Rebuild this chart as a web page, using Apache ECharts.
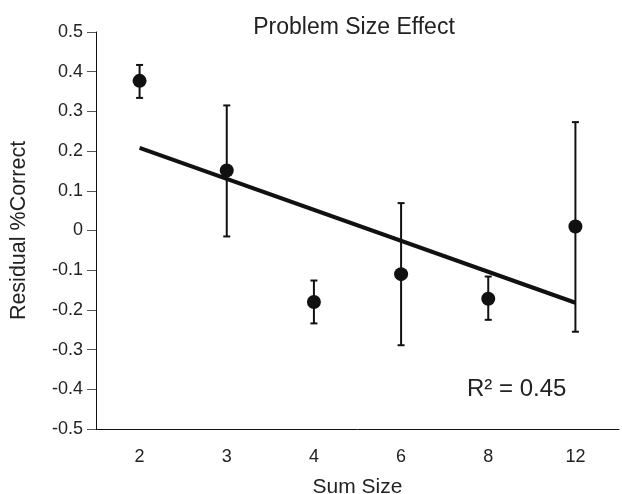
<!DOCTYPE html>
<html>
<head>
<meta charset="utf-8">
<script src="https://cdn.jsdelivr.net/npm/echarts@6/dist/echarts.min.js"></script>
<style>
  html, body { margin: 0; padding: 0; background: #fff; }
  #chart { width: 622px; height: 494px; }
</style>
</head>
<body>
<div id="chart"></div>
<script>
// 数据
const categories = ['2', '3', '4', '6', '8', '12']
const means = [0.377, 0.151, -0.180, -0.110, -0.172, 0.010]
const errHigh = [0.417, 0.315, -0.126, 0.069, -0.116, 0.273]
const errLow = [0.334, -0.015, -0.234, -0.289, -0.225, -0.255]
// 趋势线端点（只有首尾两点）
const trend = [0.208, null, null, null, null, -0.182]
const yTicks = { min: -0.5, max: 0.5, interval: 0.1 }

const chart = echarts.init(document.getElementById('chart'))
const font = 'Liberation Sans, Arial, sans-serif'

const errData = categories.map((c, i) => [i, errLow[i], errHigh[i]])

const option = {
  animation: false,
  title: {
    text: 'Problem Size Effect',
    left: 349,
    top: 11,
    textAlign: 'center',
    textStyle: { fontFamily: font, fontSize: 23, fontWeight: 'normal', color: '#222' }
  },
  graphic: [{
    type: 'text',
    left: 467,
    top: 377,
    style: { text: 'R² = 0.45', font: '24px ' + font, fill: '#222' }
  }],
  grid: { left: 96, right: 3, top: 32, bottom: 65, containLabel: false, outerBoundsMode: 'none' },
  xAxis: {
    type: 'category',
    data: categories,
    boundaryGap: true,
    name: 'Sum Size',
    nameLocation: 'middle',
    nameGap: 48,
    nameTextStyle: { fontFamily: font, fontSize: 21, color: '#222' },
    axisLine: { onZero: false, lineStyle: { color: '#111', width: 1 } },
    axisTick: { length: 9, lineStyle: { color: '#444' } },
    axisLabel: { fontFamily: font, fontSize: 18, color: '#222', margin: 19 },
    splitLine: { show: false }
  },
  yAxis: {
    type: 'value',
    min: yTicks.min,
    max: yTicks.max,
    interval: yTicks.interval,
    name: 'Residual %Correct',
    nameLocation: 'middle',
    nameGap: 66,
    nameTextStyle: { fontFamily: font, fontSize: 21.5, color: '#222' },
    axisLine: { show: true, lineStyle: { color: '#111', width: 1 } },
    axisTick: { show: true, length: 9, lineStyle: { color: '#555' } },
    axisLabel: { fontFamily: font, fontSize: 18, color: '#222', margin: 13 },
    splitLine: { show: false }
  },
  series: [
    {
      // 误差线
      type: 'custom',
      data: errData,
      z: 2,
      renderItem: (params, api) => {
        const x = api.value(0)
        const lo = api.coord([x, api.value(1)])
        const hi = api.coord([x, api.value(2)])
        const cap = 3.5
        const style = { stroke: '#111', lineWidth: 2 }
        return {
          type: 'group',
          children: [
            { type: 'line', shape: { x1: lo[0], y1: lo[1], x2: hi[0], y2: hi[1] }, style },
            { type: 'line', shape: { x1: hi[0] - cap, y1: hi[1], x2: hi[0] + cap, y2: hi[1] }, style },
            { type: 'line', shape: { x1: lo[0] - cap, y1: lo[1], x2: lo[0] + cap, y2: lo[1] }, style }
          ]
        }
      }
    },
    {
      // 趋势线
      type: 'line',
      data: trend,
      connectNulls: true,
      symbol: 'none',
      z: 3,
      lineStyle: { color: '#111', width: 4 }
    },
    {
      type: 'scatter',
      data: means,
      symbol: 'circle',
      symbolSize: 14,
      z: 4,
      itemStyle: { color: '#111', opacity: 1 }
    }
  ]
}

chart.setOption(option)
</script>
</body>
</html>
